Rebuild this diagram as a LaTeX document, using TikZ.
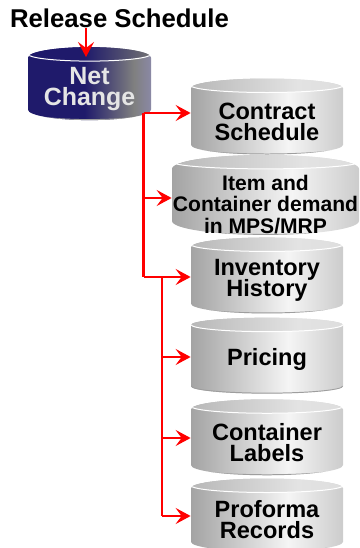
\documentclass[tikz,border=0pt]{standalone}
\usepackage{fontspec}
\setmainfont{Liberation Sans}
\usetikzlibrary{shapes.geometric,arrows.meta}
\lineskiplimit=-10pt
\pgfdeclarehorizontalshading{drumgray}{100bp}{color(0bp)=(black!36);color(25bp)=(black!36);color(57bp)=(white!96!black);color(75bp)=(black!20);color(100bp)=(black!20)}
\pgfdeclarehorizontalshading{capgray}{100bp}{color(0bp)=(black!28);color(25bp)=(black!28);color(60bp)=(black!11);color(75bp)=(black!13);color(100bp)=(black!13)}
\definecolor{mynavy}{HTML}{1F1A6B}
\pgfdeclarehorizontalshading{drumnavy}{100bp}{color(0bp)=(mynavy);color(25bp)=(mynavy);color(48bp)=(mynavy);color(68bp)=(black!50);color(75bp)=(mynavy!70!black!50);color(100bp)=(mynavy!70!black!50)}
\pgfdeclarehorizontalshading{capnavy}{100bp}{color(0bp)=(mynavy);color(25bp)=(mynavy);color(48bp)=(mynavy);color(75bp)=(black!55);color(100bp)=(black!55)}
\tikzstyle{redline} = [red,line width=0.05cm]
\tikzstyle{redarrow} = [red,line width=0.05cm,-{Stealth[length=0.3cm,width=0.32cm,inset=0.12cm]}]
\tikzset{
  drum/.style n args={5}{cylinder,shape border rotate=90,aspect=#5,inner sep=0pt,inner ysep=-0.3cm,
    minimum width=#1*0.02cm,minimum height=#2*0.02cm,shading=#3,align=center,
    path picture={
      \shade[shading=#4] ([yshift=-0.14cm]path picture bounding box.north) ellipse ({#1/2} and 7);
      \draw[white,line width=0.02cm] ([yshift=-0.14cm]path picture bounding box.west |- path picture bounding box.north) arc (180:360:{#1/2} and 7);
      \draw[black!38,line width=0.04cm] ([yshift=0.14cm]path picture bounding box.south west) arc (180:360:{#1/2} and 7);
    }},
  graydrum/.style={drum={152}{#1}{drumgray}{capgray}{0.184},font=\bfseries\fontsize{13.4}{11.9}\selectfont,text=black},
}
\begin{document}
\begin{tikzpicture}[x=0.02cm,y=0.02cm]
  \useasboundingbox (0,0) rectangle (359,548);
  % top
  \node[inner sep=0pt,font=\bfseries\fontsize{14.65}{16}\selectfont] (release) at (119.5,530) {Release Schedule};
  \node[drum={123}{73}{drumnavy}{capnavy}{0.228},font=\bfseries\fontsize{14.2}{11.9}\selectfont,text=black!10] (net) at (89.5,459) {Net\\Change};
  % drums
  \node[graydrum=76] (contract) at (267,426.5) {Contract\\Schedule};
  \node[drum={187}{80}{drumgray}{capgray}{0.15},font=\bfseries\fontsize{12}{12.2}\selectfont] (item) at (265.5,346) {\rule{0pt}{11.4pt}Item and\\Container demand\\in MPS/MRP};
  \node[graydrum=76] (inventory) at (267,267.5) {Inventory\\History};
  \node[graydrum=76] (pricing) at (267,188.5) {Pricing};
  \node[graydrum=76] (container) at (267,105.5) {Container\\Labels};
  \node[graydrum=73] (proforma) at (267,28) {Proforma\\Records};
  % trunks
  \coordinate (netin) at (86,491);
  \coordinate (jointa) at (143.5,435);
  \coordinate (jointb) at (143.5,350);
  \coordinate (jointc) at (143.5,271);
  \coordinate (jointd) at (162,271);
  \coordinate (jointe) at (162,191);
  \coordinate (jointf) at (162,110);
  \coordinate (jointg) at (162,32);
  \draw [redarrow] (netin |- release.south) -- (netin);
  \draw [redarrow] (jointa) -- (jointa -| contract.west);
  \draw [redline] (jointa) -- (jointc);
  \draw [redarrow] (jointb) -- (jointb -| item.west);
  \draw [redarrow] (jointc) -- (jointc -| inventory.west);
  \draw [redline] (jointd) -- (jointg);
  \draw [redarrow] (jointe) -- (jointe -| pricing.west);
  \draw [redarrow] (jointf) -- (jointf -| container.west);
  \draw [redarrow] (jointg) -- (jointg -| proforma.west);
\end{tikzpicture}
\end{document}
